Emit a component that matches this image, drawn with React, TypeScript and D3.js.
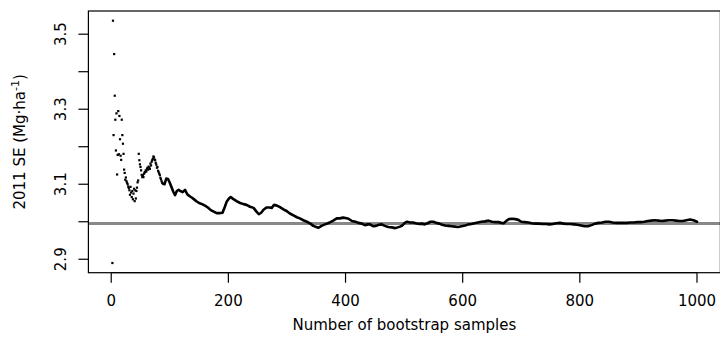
import { useEffect, useRef } from "react"
import * as d3 from "d3"

// first bootstrap samples, one dot per sample (scattered part)
const earlyN = [
  2, 3, 4, 5, 6, 7, 8, 9, 10, 11, 12, 13, 14, 15, 16, 17, 18, 19, 20, 21, 22, 23, 24, 25,
  26, 27, 28, 29, 30, 31, 32, 33, 34, 35, 36, 37, 38, 39, 40, 41, 42, 43, 44, 45, 46, 47,
  48, 49, 50, 51, 52, 53, 54, 55, 56, 57, 58, 59, 60, 61, 62, 63, 64, 65, 66, 67, 68, 69,
  70, 71, 72, 73, 74, 75, 76, 77, 78, 79, 80, 81, 82, 83, 84, 85, 86, 87,
]
const earlySE = [
  2.89, 3.536, 3.231, 3.447, 3.336, 3.272, 3.19, 3.289, 3.126, 3.178, 3.295, 3.18, 3.282,
  3.22, 3.176, 3.165, 3.272, 3.231, 3.208, 3.181, 3.139, 3.13, 3.112, 3.118, 3.108, 3.104,
  3.1, 3.094, 3.09, 3.084, 3.072, 3.093, 3.078, 3.066, 3.082, 3.06, 3.075, 3.088, 3.055,
  3.084, 3.062, 3.082, 3.091, 3.105, 3.11, 3.181, 3.164, 3.153, 3.146, 3.137, 3.125, 3.119,
  3.124, 3.119, 3.128, 3.131, 3.133, 3.137, 3.134, 3.141, 3.144, 3.139, 3.147, 3.144,
  3.141, 3.155, 3.15, 3.16, 3.164, 3.168, 3.174, 3.172, 3.166, 3.164, 3.157, 3.152, 3.144,
  3.146, 3.136, 3.132, 3.128, 3.124, 3.117, 3.113, 3.108, 3.104,
]

// dense part, read every few samples
const trailN = [
  88, 91, 94, 97, 100, 103, 106, 109, 112, 115, 118, 122, 126, 130, 134, 138, 142, 146,
  150, 155, 160, 165, 170, 175, 180, 185, 190, 194, 197, 201, 204, 208, 214, 220, 226,
  231, 237, 243, 248, 252, 256, 260, 265, 270, 274, 278, 283, 288, 294, 300, 305, 311,
  317, 322, 328, 334, 340, 345, 350, 354, 359, 365, 370, 374, 379, 385, 390, 396, 400,
  405, 411, 417, 422, 428, 433, 438, 442, 447, 452, 457, 462, 467, 473, 479, 485, 489,
  493, 497, 501, 505, 510, 515, 520, 526, 530, 535, 540, 545, 550, 555, 560, 565, 570,
  576, 581, 587, 592, 598, 604, 610, 615, 620, 626, 632, 638, 644, 650, 656, 661, 666,
  670, 675, 679, 684, 690, 695, 700, 706, 712, 718, 724, 730, 736, 742, 748, 754, 760,
  766, 772, 778, 784, 790, 796, 802, 808, 814, 820, 826, 832, 838, 844, 850, 856, 862,
  868, 874, 880, 886, 892, 898, 904, 910, 916, 922, 928, 934, 940, 946, 952, 958, 964,
  970, 976, 982, 988, 994, 1000,
]
const trailSE = [
  3.102, 3.1, 3.115, 3.114, 3.104, 3.092, 3.08, 3.071, 3.082, 3.085, 3.082, 3.079, 3.085,
  3.073, 3.068, 3.064, 3.059, 3.054, 3.05, 3.047, 3.043, 3.038, 3.031, 3.027, 3.023, 3.023,
  3.024, 3.04, 3.053, 3.062, 3.066, 3.061, 3.055, 3.05, 3.047, 3.045, 3.04, 3.037, 3.027,
  3.02, 3.024, 3.032, 3.038, 3.038, 3.037, 3.045, 3.043, 3.039, 3.033, 3.028, 3.022, 3.017,
  3.012, 3.009, 3.004, 3.0, 2.995, 2.989, 2.986, 2.984, 2.989, 2.993, 2.996, 2.999, 3.003,
  3.009, 3.009, 3.011, 3.01, 3.008, 3.002, 3.0, 2.997, 2.995, 2.991, 2.993, 2.993, 2.988,
  2.989, 2.992, 2.993, 2.989, 2.986, 2.985, 2.983, 2.985, 2.987, 2.99, 2.997, 3.0, 2.998,
  2.998, 2.996, 2.994, 2.995, 2.993, 2.996, 3.0, 3.0, 2.997, 2.995, 2.992, 2.99, 2.989,
  2.988, 2.987, 2.986, 2.988, 2.99, 2.993, 2.994, 2.996, 2.998, 3.0, 3.001, 3.003, 3.0,
  2.999, 2.999, 2.997, 2.996, 3.003, 3.007, 3.008, 3.007, 3.005, 3.0, 2.999, 2.998, 2.996,
  2.995, 2.995, 2.994, 2.994, 2.993, 2.994, 2.996, 2.997, 2.995, 2.994, 2.994, 2.993,
  2.992, 2.99, 2.988, 2.988, 2.991, 2.995, 2.997, 2.998, 3.0, 3.0, 2.998, 2.997, 2.997,
  2.997, 2.997, 2.998, 2.998, 2.999, 2.999, 3.0, 3.002, 3.003, 3.004, 3.003, 3.002, 3.003,
  3.004, 3.004, 3.003, 3.002, 3.002, 3.004, 3.006, 3.004, 3.0,
]

const xTicks = [0, 200, 400, 600, 800, 1000]
const yTicks = [2.9, 3.0, 3.1, 3.2, 3.3, 3.4, 3.5]
const yTickLabels = ["2.9", "", "3.1", "", "3.3", "", "3.5"]
const fullSE = 2.995

export default function App() {
  const svgRef = useRef<SVGSVGElement>(null)

  useEffect(() => {
    if (!svgRef.current) return

    const width = 720
    const height = 358
    const plot = { left: 88.4, right: 720.4, top: 11, bottom: 272.7 }
    const font = "'DejaVu Sans', Verdana, sans-serif"

    d3.select(svgRef.current).selectAll("*").remove()
    const svg = d3.select(svgRef.current).attr("width", width).attr("height", height)

    // R style 4% padding around the data range
    const nMin = 1
    const nMax = 1000
    const allSE = earlySE.concat(trailSE)
    const seMin = d3.min(allSE) as number
    const seMax = d3.max(allSE) as number
    const padX = (nMax - nMin) * 0.04
    const padY = (seMax - seMin) * 0.04

    const x = d3.scaleLinear().domain([nMin - padX, nMax + padX]).range([plot.left, plot.right])
    const y = d3.scaleLinear().domain([seMin - padY, seMax + padY]).range([plot.bottom, plot.top])

    // reference line
    svg
      .append("line")
      .attr("x1", plot.left)
      .attr("x2", plot.right)
      .attr("y1", y(fullSE))
      .attr("y2", y(fullSE))
      .attr("stroke", "#888888")
      .attr("stroke-width", 3)

    // dense running trail
    const line = d3
      .line<number>()
      .x((_, i) => x(trailN[i]))
      .y((d) => y(d))
    svg
      .append("path")
      .datum(trailSE)
      .attr("fill", "none")
      .attr("stroke", "#000")
      .attr("stroke-width", 2.6)
      .attr("stroke-linejoin", "round")
      .attr("stroke-linecap", "round")
      .attr("d", line)

    // early dots
    svg
      .selectAll("rect.dot")
      .data(earlySE)
      .join("rect")
      .attr("class", "dot")
      .attr("x", (_, i) => x(earlyN[i]) - 1.1)
      .attr("y", (d) => y(d) - 1.1)
      .attr("width", 2.2)
      .attr("height", 2.2)
      .attr("fill", "#000")

    // box
    svg
      .append("rect")
      .attr("x", plot.left)
      .attr("y", plot.top)
      .attr("width", plot.right - plot.left)
      .attr("height", plot.bottom - plot.top)
      .attr("fill", "none")
      .attr("stroke", "#000")
      .attr("stroke-width", 1.2)

    // x axis
    const gx = svg.append("g")
    gx.append("line")
      .attr("x1", x(xTicks[0]))
      .attr("x2", x(xTicks[xTicks.length - 1]))
      .attr("y1", plot.bottom)
      .attr("y2", plot.bottom)
      .attr("stroke", "#000")
    gx.selectAll("line.tick")
      .data(xTicks)
      .join("line")
      .attr("class", "tick")
      .attr("x1", (d) => x(d))
      .attr("x2", (d) => x(d))
      .attr("y1", plot.bottom)
      .attr("y2", plot.bottom + 10)
      .attr("stroke", "#000")
      .attr("stroke-width", 1.2)
    gx.selectAll("text")
      .data(xTicks)
      .join("text")
      .attr("x", (d) => x(d))
      .attr("y", 305.5)
      .attr("text-anchor", "middle")
      .attr("font-family", font)
      .attr("font-size", 15)
      .attr("fill", "#000")
      .text((d) => String(d))

    // y axis
    const gy = svg.append("g")
    gy.selectAll("line.tick")
      .data(yTicks)
      .join("line")
      .attr("class", "tick")
      .attr("x1", plot.left)
      .attr("x2", plot.left - 10)
      .attr("y1", (d) => y(d))
      .attr("y2", (d) => y(d))
      .attr("stroke", "#000")
      .attr("stroke-width", 1.2)
    gy.selectAll("text")
      .data(yTicks)
      .join("text")
      .attr("transform", (d) => `translate(66,${y(d)}) rotate(-90)`)
      .attr("text-anchor", "middle")
      .attr("font-family", font)
      .attr("font-size", 15)
      .attr("fill", "#000")
      .text((_, i) => yTickLabels[i])

    // axis titles
    svg
      .append("text")
      .attr("x", (plot.left + plot.right) / 2)
      .attr("y", 330)
      .attr("text-anchor", "middle")
      .attr("font-family", font)
      .attr("font-size", 15)
      .attr("fill", "#000")
      .text("Number of bootstrap samples")

    const yTitle = svg
      .append("text")
      .attr("transform", `translate(24.5,${(plot.top + plot.bottom) / 2}) rotate(-90)`)
      .attr("text-anchor", "middle")
      .attr("font-family", font)
      .attr("font-size", 15)
      .attr("fill", "#000")
    yTitle.append("tspan").text("2011 SE (Mg\u00b7ha")
    yTitle.append("tspan").attr("dy", -6).attr("font-size", 11).text("-1")
    yTitle.append("tspan").attr("dy", 6).text(")")
  }, [])

  return (
    <svg
      ref={svgRef}
      style={{ position: "absolute", left: 0, top: 0, background: "#fff" }}
    />
  )
}
